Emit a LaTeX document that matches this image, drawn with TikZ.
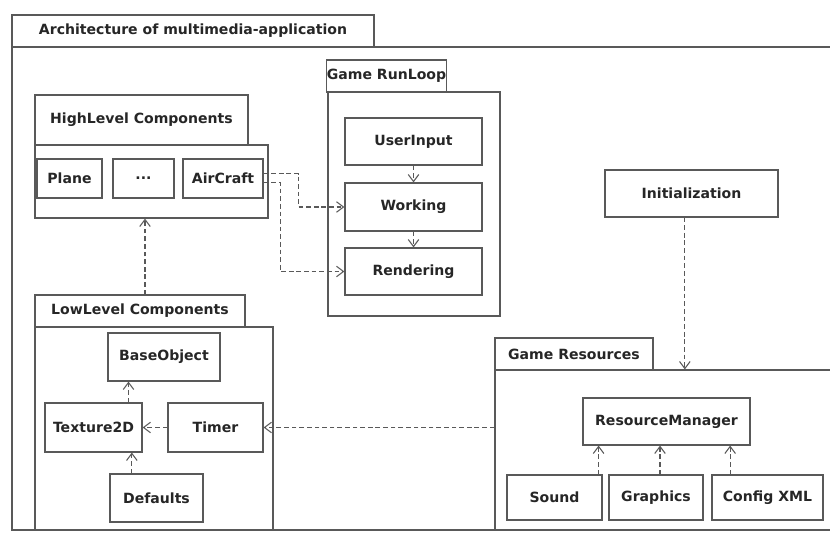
\documentclass[tikz,border=0pt]{standalone}
\usepackage{fontspec}
\setmainfont{DejaVu Sans}
\usetikzlibrary{arrows.meta}
\colorlet{linecol}{black!65}
\tikzset{
  box/.style = {draw = linecol, line width = 1pt, inner sep = 0pt, text = black!85},
  dep/.style = {draw = linecol, line width = 0.9pt, dash pattern = on 4pt off 2.5pt,
                -{Straight Barb[length = 6pt, width = 9pt]}}
}
\begin{document}
\begin{tikzpicture}[x = 0.03cm, y = -0.03cm, font = \fontsize{12}{14}\selectfont\bfseries]
\clip (0,0) rectangle (830,534);
\useasboundingbox (0,0) rectangle (830,534);
\fill[white] (0,0) rectangle (830,534);
% outer package
\node[box, minimum width = 10.86cm, minimum height = 0.96cm] at (193,31) (archtab) {Architecture of multimedia-application};
\node[box, minimum width = 25.14cm, minimum height = 14.49cm] at (431,288.5) (archbody) {};
% game run loop
\node[box, minimum width = 3.51cm, minimum height = 0.96cm] at (386.5,76) (looptab) {Game RunLoop};
\node[box, minimum width = 5.16cm, minimum height = 6.72cm] at (414,204) (loopbody) {};
\node[box, minimum width = 4.11cm, minimum height = 1.41cm] at (413.5,141.5) (userinput) {UserInput};
\node[box, minimum width = 4.11cm, minimum height = 1.44cm] at (413.5,207) (working) {Working};
\node[box, minimum width = 4.11cm, minimum height = 1.41cm] at (413.5,271.5) (rendering) {Rendering};
% high level
\node[box, minimum width = 6.39cm, minimum height = 1.5cm] at (141.5,120) (hightab) {HighLevel Components};
\node[box, minimum width = 6.99cm, minimum height = 2.19cm] at (151.5,181.5) (highbody) {};
\node[box, minimum width = 1.95cm, minimum height = 1.17cm] at (69.5,178.5) (plane) {Plane};
\node[box, minimum width = 1.83cm, minimum height = 1.17cm] at (143.5,178.5) (dots) {...};
\node[box, minimum width = 2.4cm, minimum height = 1.17cm] at (223,178.5) (aircraft) {AirCraft};
% low level
\node[box, minimum width = 6.3cm, minimum height = 0.96cm] at (140,311) (lowtab) {LowLevel Components};
\node[box, minimum width = 7.14cm, minimum height = 6.09cm] at (154,428.5) (lowbody) {};
\node[box, minimum width = 3.36cm, minimum height = 1.44cm] at (164,357) (baseobj) {BaseObject};
\node[box, minimum width = 2.91cm, minimum height = 1.47cm] at (93.5,427.5) (texture) {Texture2D};
\node[box, minimum width = 2.85cm, minimum height = 1.47cm] at (215.5,427.5) (timer) {Timer};
\node[box, minimum width = 2.79cm, minimum height = 1.44cm] at (156.5,498) (defaults) {Defaults};
% resources
\node[box, minimum width = 5.19cm, minimum height = 1.41cm] at (691.5,193.5) (init) {Initialization};
\node[box, minimum width = 4.74cm, minimum height = 0.96cm] at (574,354) (restab) {Game Resources};
\node[box, minimum width = 10.65cm, minimum height = 4.8cm] at (672.5,450) (resbody) {};
\node[box, minimum width = 5.01cm, minimum height = 1.41cm] at (666.5,421.5) (resmgr) {ResourceManager};
\node[box, minimum width = 2.85cm, minimum height = 1.35cm] at (554.5,497.5) (sound) {Sound};
\node[box, minimum width = 2.82cm, minimum height = 1.35cm] at (656,497.5) (graphics) {Graphics};
\node[box, minimum width = 3.33cm, minimum height = 1.35cm] at (767.5,497.5) (config) {Config XML};
% dependencies
\draw[dep] ([yshift = 0.15cm]aircraft.east) -- ++(1.05cm,0) |- (working.west);
\draw[dep] ([yshift = -0.12cm]aircraft.east) -- ++(0.5cm,0) |- (rendering.west);
\draw[dep] (userinput.south) -- (working.north);
\draw[dep] (working.south) -- (rendering.north);
\draw[dep] ([xshift = 0.15cm]lowtab.north) -- ([xshift = 0.15cm]lowtab.north |- highbody.south);
\draw[dep] ([xshift = 1.05cm]texture.north) -- ([xshift = 1.05cm]texture.north |- baseobj.south);
\draw[dep] ([xshift = -0.74cm]defaults.north) -- ([xshift = -0.74cm]defaults.north |- texture.south);
\draw[dep] (timer.west) -- (texture.east);
\draw[dep] (resbody.west |- timer.east) -- (timer.east);
\draw[dep] ([xshift = -0.2cm]init.south) -- ([xshift = -0.2cm]init.south |- resbody.north);
\draw[dep] ([xshift = -0.12cm]sound.north east) -- ([xshift = -0.12cm]sound.north east |- resmgr.south);
\draw[dep] ([xshift = 0.12cm]graphics.north) -- ([xshift = 0.12cm]graphics.north |- resmgr.south);
\draw[dep] ([xshift = -1.12cm]config.north) -- ([xshift = -1.12cm]config.north |- resmgr.south);
\end{tikzpicture}
\end{document}
